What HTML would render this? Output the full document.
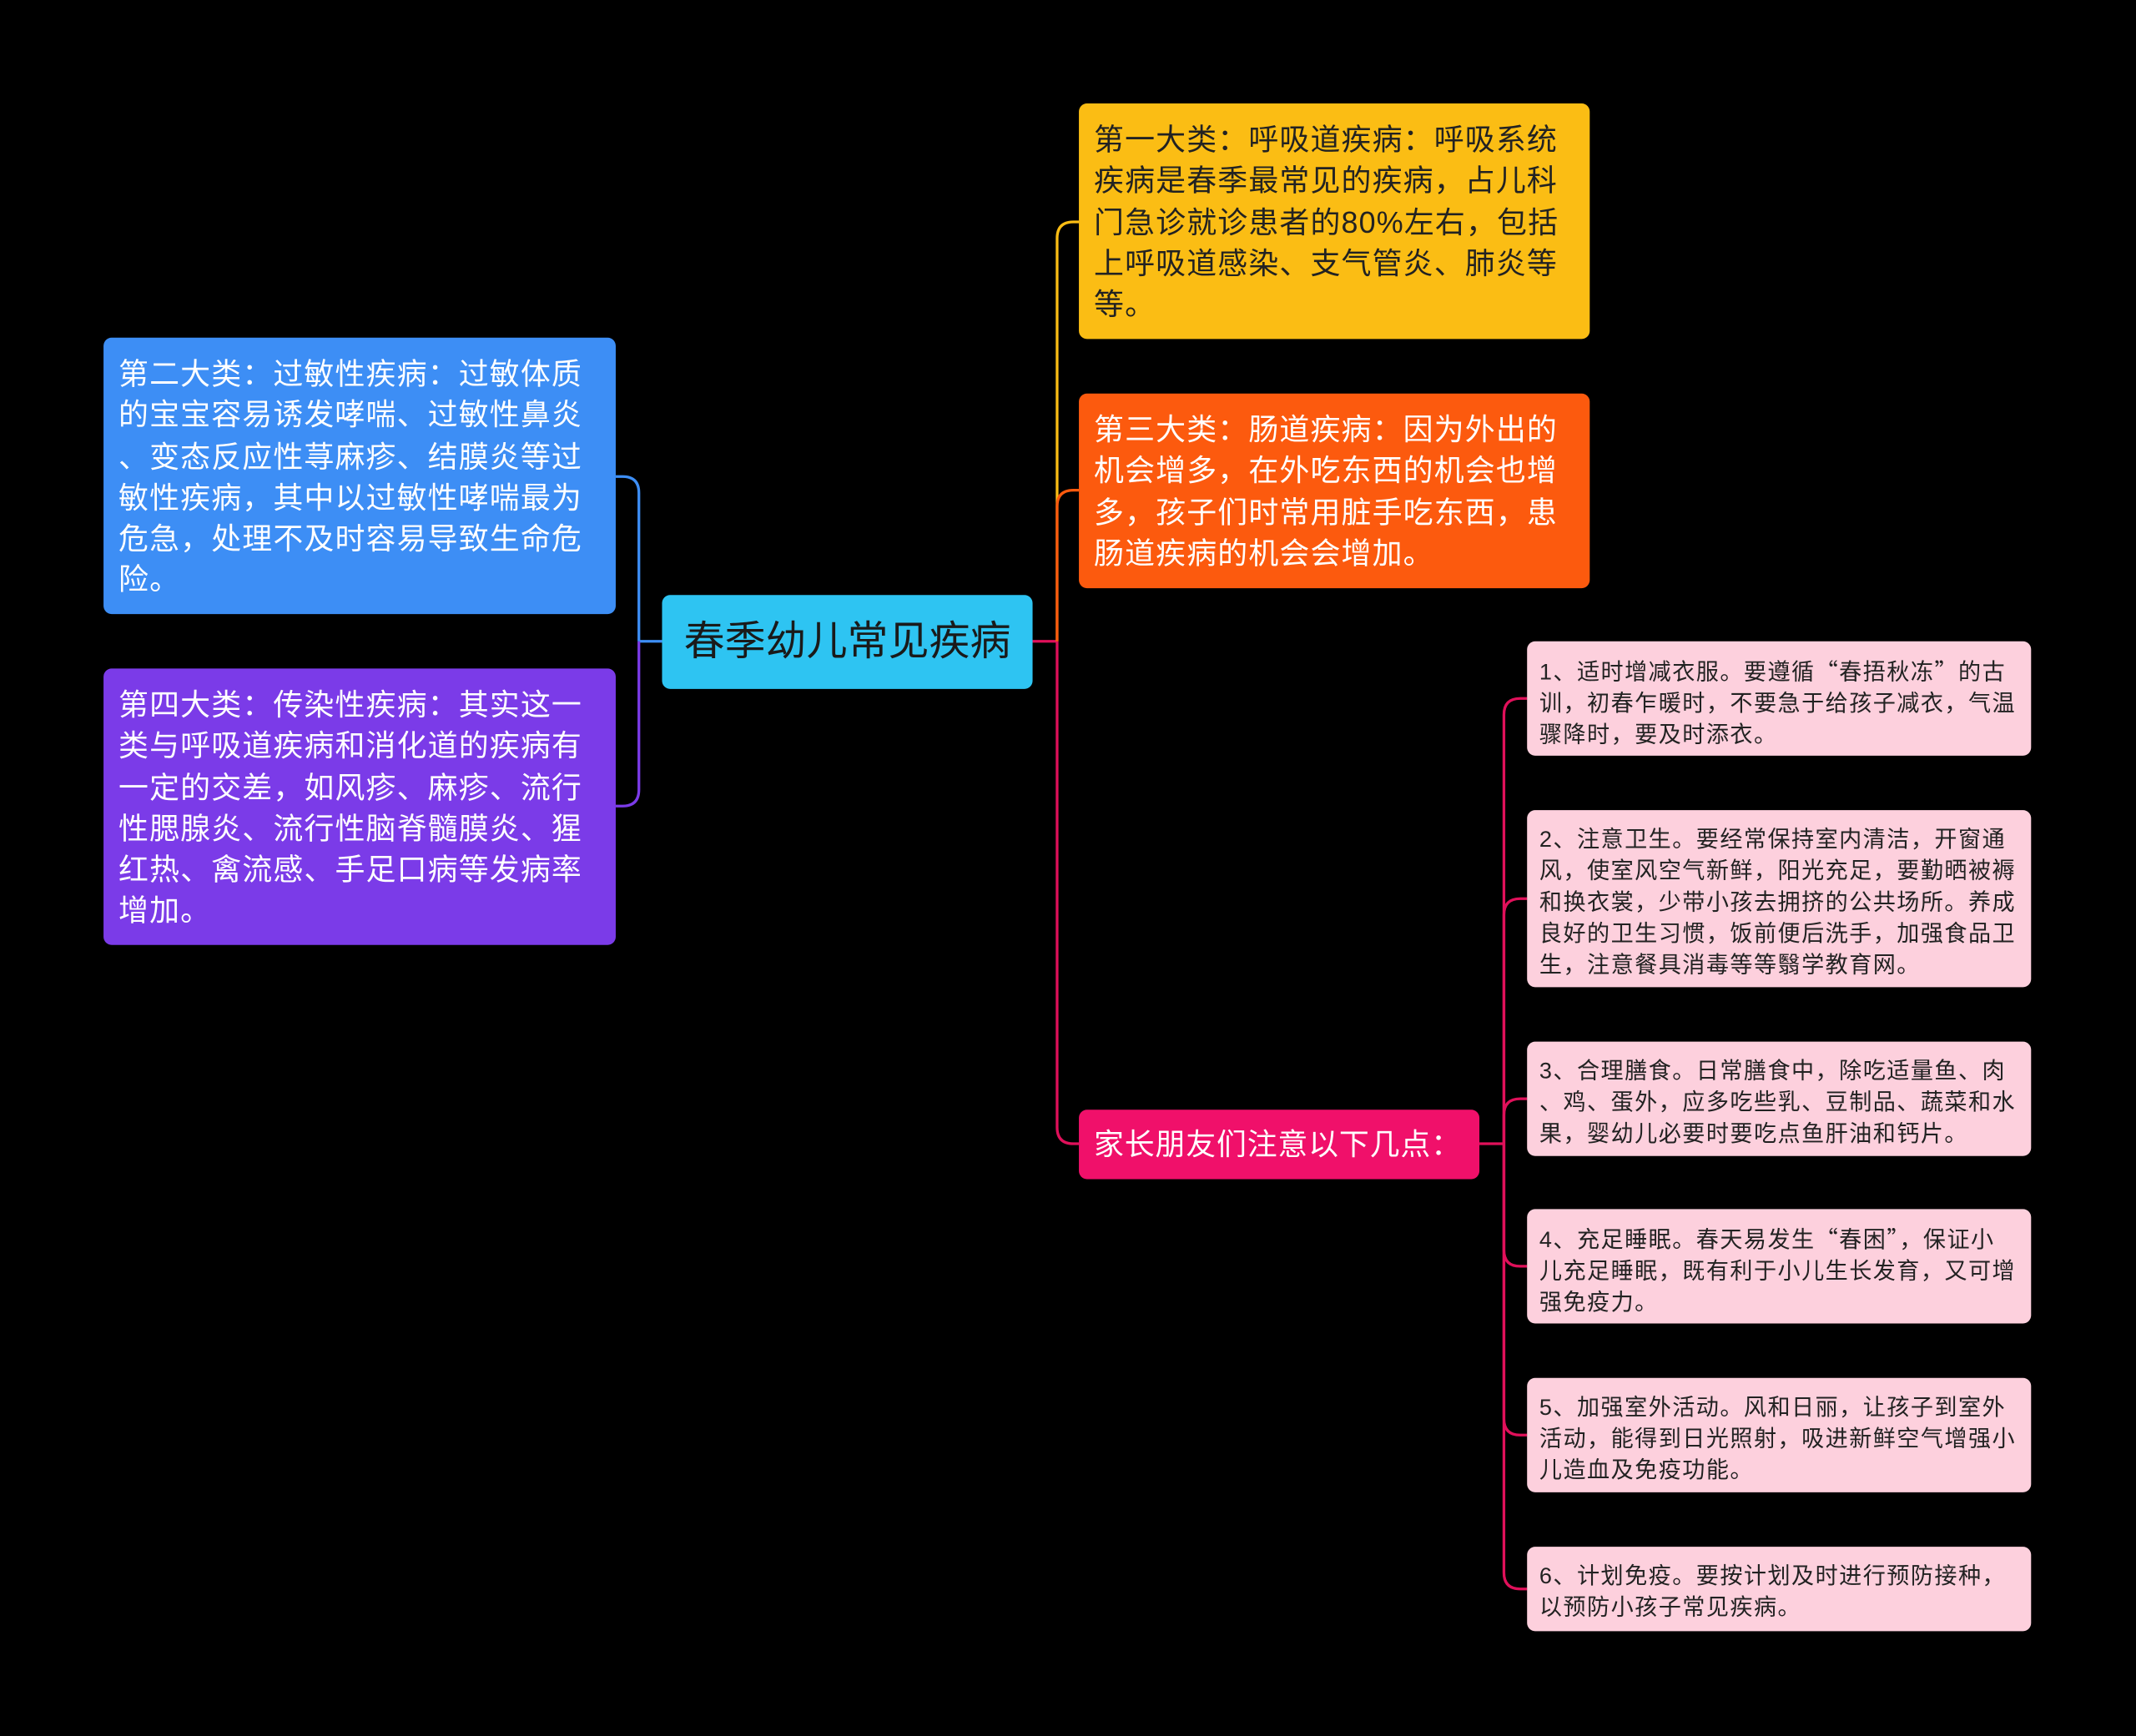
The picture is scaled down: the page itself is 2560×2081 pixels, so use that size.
<!DOCTYPE html>
<html><head><meta charset="utf-8"><style>
html,body{margin:0;padding:0;background:#000;width:2560px;height:2081px;overflow:hidden}
#w{position:absolute;left:0;top:0;width:1568px;height:1275px;transform:scale(1.63265,1.63216);transform-origin:0 0}
.n{position:absolute;box-sizing:border-box;border-radius:6px;font-family:"Liberation Sans","Noto Sans CJK SC",sans-serif;white-space:nowrap}
.b{font-size:22px;line-height:30.3px;padding:12px 0 0 11px;letter-spacing:0.7px}
.s{font-size:16.6px;line-height:23px;padding:10px 0 0 9px;background:#fdd0dd;color:#222;letter-spacing:0.9px}
.q{font-family:"Noto Sans CJK SC",sans-serif}
svg{position:absolute;left:0;top:0}
</style></head><body><div id="w">
<svg width="1568" height="1275" fill="none" stroke-width="2">
<path d="M486 471 H469 M469 471 V362 Q469 350 457 350 H452" stroke="#3d8ef5"/>
<path d="M469 471 V580 Q469 592 457 592 H452" stroke="#7b3be8"/>
<path d="M758 471 H776" stroke="#e0105a"/>
<path d="M776 471 V175 Q776 163 788 163 H792" stroke="#fbbd14"/>
<path d="M776 471 V372 Q776 360 788 360 H792" stroke="#fc5a0e"/>
<path d="M776 471 V828 Q776 840 788 840 H792" stroke="#e0105a"/>
<g stroke="#e0105a">
<path d="M1086 840 H1104"/>
<path d="M1104 840 V525 Q1104 513 1116 513 H1121"/>
<path d="M1104 840 V672 Q1104 660 1116 660 H1121"/>
<path d="M1104 840 V819 Q1104 807 1116 807 H1121"/>
<path d="M1104 840 V918 Q1104 930 1116 930 H1121"/>
<path d="M1104 840 V1042 Q1104 1054 1116 1054 H1121"/>
<path d="M1104 840 V1155 Q1104 1167 1116 1167 H1121"/>
</g>
</svg>
<div class="n" style="left:486px;top:437px;width:272px;height:69px;background:#2ec4f2;color:#1a1a1a;font-size:30px;line-height:69px;text-align:center">春季幼儿常见疾病</div>
<div class="n b" style="left:76px;top:248px;width:376px;height:203px;background:#3d8ef5;color:#fff">第二大类：过敏性疾病：过敏体质<br>的宝宝容易诱发哮喘、过敏性鼻炎<br>、变态反应性荨麻疹、结膜炎等过<br>敏性疾病，其中以过敏性哮喘最为<br>危急，处理不及时容易导致生命危<br>险。</div>
<div class="n b" style="left:76px;top:491px;width:376px;height:203px;background:#7b3be8;color:#fff">第四大类：传染性疾病：其实这一<br>类与呼吸道疾病和消化道的疾病有<br>一定的交差，如风疹、麻疹、流行<br>性腮腺炎、流行性脑脊髓膜炎、猩<br>红热、禽流感、手足口病等发病率<br>增加。</div>
<div class="n b" style="left:792px;top:76px;width:375px;height:173px;background:#fbbd14;color:#222">第一大类：呼吸道疾病：呼吸系统<br>疾病是春季最常见的疾病，占儿科<br>门急诊就诊患者的80%左右，包括<br>上呼吸道感染、支气管炎、肺炎等<br>等。</div>
<div class="n b" style="left:792px;top:289px;width:375px;height:143px;background:#fc5a0e;color:#fff">第三大类：肠道疾病：因为外出的<br>机会增多，在外吃东西的机会也增<br>多，孩子们时常用脏手吃东西，患<br>肠道疾病的机会会增加。</div>
<div class="n" style="left:792px;top:815px;width:294px;height:51px;background:#f0106a;color:#fff;font-size:22px;line-height:51px;padding-left:11px;letter-spacing:0.5px">家长朋友们注意以下几点：</div>
<div class="n s" style="left:1121px;top:471px;width:370px;height:84px">1、适时增减衣服。要遵循<span class="q">“</span>春捂秋冻<span class="q">”</span>的古<br>训，初春乍暖时，不要急于给孩子减衣，气温<br>骤降时，要及时添衣。</div>
<div class="n s" style="left:1121px;top:595px;width:370px;height:130px">2、注意卫生。要经常保持室内清洁，开窗通<br>风，使室风空气新鲜，阳光充足，要勤晒被褥<br>和换衣裳，少带小孩去拥挤的公共场所。养成<br>良好的卫生习惯，饭前便后洗手，加强食品卫<br>生，注意餐具消毒等等翳学教育网。</div>
<div class="n s" style="left:1121px;top:765px;width:370px;height:84px">3、合理膳食。日常膳食中，除吃适量鱼、肉<br>、鸡、蛋外，应多吃些乳、豆制品、蔬菜和水<br>果，婴幼儿必要时要吃点鱼肝油和钙片。</div>
<div class="n s" style="left:1121px;top:888px;width:370px;height:84px">4、充足睡眠。春天易发生<span class="q">“</span>春困<span class="q">”</span>，保证小<br>儿充足睡眠，既有利于小儿生长发育，又可增<br>强免疫力。</div>
<div class="n s" style="left:1121px;top:1012px;width:370px;height:84px">5、加强室外活动。风和日丽，让孩子到室外<br>活动，能得到日光照射，吸进新鲜空气增强小<br>儿造血及免疫功能。</div>
<div class="n s" style="left:1121px;top:1136px;width:370px;height:62px">6、计划免疫。要按计划及时进行预防接种，<br>以预防小孩子常见疾病。</div>
</div></body></html>
